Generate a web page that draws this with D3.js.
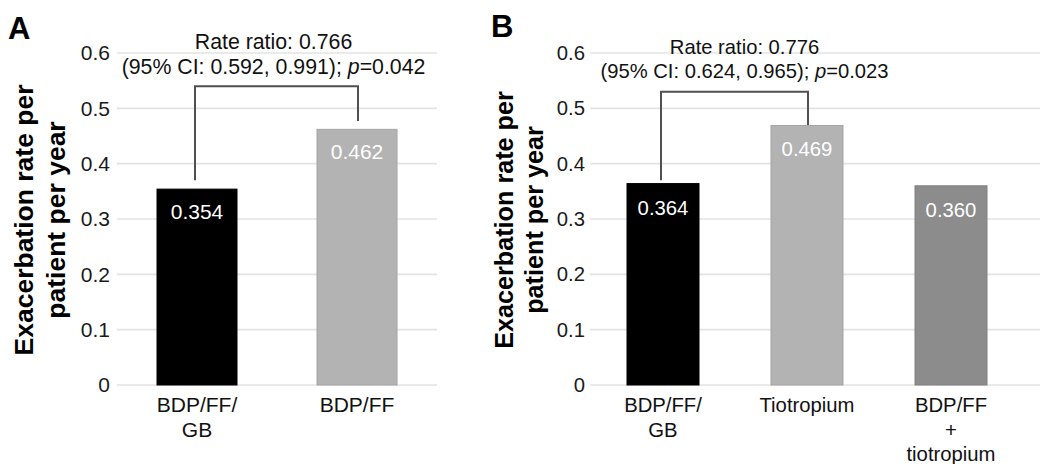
<!DOCTYPE html>
<html>
<head>
<meta charset="utf-8">
<script src="https://cdn.jsdelivr.net/npm/d3@7"></script>
<style>
  html, body { margin: 0; padding: 0; background: #fff; }
  svg { display: block; font-family: "Liberation Sans", Arial, Helvetica, sans-serif; }
</style>
</head>
<body>
<svg id="chart" width="1040" height="464"></svg>
<script>
// ---------- data ----------
const yTickValues = [0, 0.1, 0.2, 0.3, 0.4, 0.5, 0.6];
const yTickLabels = ["0", "0.1", "0.2", "0.3", "0.4", "0.5", "0.6"];
const yTitleLines = ["Exacerbation rate per", "patient per year"];

const categoriesA = [["BDP/FF/", "GB"], ["BDP/FF"]];
const valuesA = [0.354, 0.462];
const valueLabelsA = ["0.354", "0.462"];
const colorsA = ["#000000", "#b3b3b3"];
const annotationA = ["Rate ratio: 0.766", "(95% CI: 0.592, 0.991); ", "p", "=0.042"];
const bracketA = { from: 0, to: 1, top: 0.540, legs: [0.370, 0.477] };

const categoriesB = [["BDP/FF/", "GB"], ["Tiotropium"], ["BDP/FF", "+", "tiotropium"]];
const valuesB = [0.364, 0.469, 0.360];
const valueLabelsB = ["0.364", "0.469", "0.360"];
const colorsB = ["#000000", "#b3b3b3", "#8c8c8c"];
const annotationB = ["Rate ratio: 0.776", "(95% CI: 0.624, 0.965); ", "p", "=0.023"];
const bracketB = { from: 0, to: 1, top: 0.530, legs: [0.370, 0.470] };

// ---------- drawing ----------
const svg = d3.select("#chart");

function drawPanel(cfg) {
  const g = svg.append("g");
  const y = d3.scaleLinear().domain([0, 0.6]).range([385, 53]);
  const x = d3.scaleBand()
    .domain(cfg.categories.map((d, i) => i))
    .range([cfg.x0, cfg.x1])
    .paddingInner(0.5)
    .paddingOuter(0.25);

  // panel letter
  g.append("text")
    .attr("x", cfg.letterX).attr("y", cfg.letterY)
    .attr("font-size", 31).attr("font-weight", "bold")
    .attr("fill", "#000").text(cfg.letter);

  // gridlines
  g.selectAll(".grid").data(yTickValues).join("line")
    .attr("x1", cfg.gridX0).attr("x2", cfg.gridX1)
    .attr("y1", d => y(d)).attr("y2", d => y(d))
    .attr("stroke", "#e3e3e3").attr("stroke-width", 1.6);

  // y axis tick labels
  const yAxis = d3.axisLeft(y).tickValues(yTickValues)
    .tickFormat((d, i) => yTickLabels[i]).tickSize(0).tickPadding(0);
  const ya = g.append("g").attr("transform", `translate(${cfg.tickRight},0)`).call(yAxis);
  ya.select(".domain").remove();
  ya.selectAll("text").attr("font-size", cfg.fs).attr("fill", "#1a1a1a")
    .attr("font-family", "'Liberation Sans', Arial, sans-serif");

  // y title
  const yc = (y(0) + y(0.6)) / 2 + 1;
  yTitleLines.forEach((t, i) => {
    g.append("text")
      .attr("transform", `translate(${cfg.titleX[i]},${yc}) rotate(-90)`)
      .attr("text-anchor", "middle")
      .attr("font-size", cfg.titleFs).attr("font-weight", "bold")
      .attr("fill", "#000").text(t);
  });

  // bars
  g.selectAll(".bar").data(cfg.values).join("rect")
    .attr("x", (d, i) => x(i)).attr("width", x.bandwidth())
    .attr("y", d => y(d)).attr("height", d => y(0) - y(d))
    .attr("fill", (d, i) => cfg.colors[i])
    .attr("stroke", (d, i) => d3.color(cfg.colors[i]).darker(0.25))
    .attr("stroke-width", 1);

  // value labels
  g.selectAll(".vl").data(cfg.values).join("text")
    .attr("x", (d, i) => x(i) + x.bandwidth() / 2)
    .attr("y", d => y(d) + cfg.labelOffset)
    .attr("text-anchor", "middle")
    .attr("font-size", cfg.fs).attr("fill", "#fff")
    .text((d, i) => cfg.valueLabels[i]);

  // category labels
  cfg.categories.forEach((lines, i) => {
    lines.forEach((t, j) => {
      g.append("text")
        .attr("x", x(i) + x.bandwidth() / 2)
        .attr("y", 412 + j * 24.5)
        .attr("text-anchor", "middle")
        .attr("font-size", cfg.fs).attr("fill", "#111")
        .text(t);
    });
  });

  // bracket
  const b = cfg.bracket;
  const bx1 = x(b.from) + x.bandwidth() / 2 - 2;
  const bx2 = x(b.to) + x.bandwidth() / 2 + 1;
  g.append("path")
    .attr("d", `M${bx1},${y(b.legs[0])}V${y(b.top)}H${bx2}V${y(b.legs[1])}`)
    .attr("fill", "none").attr("stroke", "#505050").attr("stroke-width", 2);

  // annotation
  const ax = (bx1 + bx2) / 2 + cfg.annDx;
  g.append("text")
    .attr("x", ax).attr("y", cfg.annY[0])
    .attr("text-anchor", "middle").attr("font-size", cfg.annFs).attr("fill", "#111")
    .text(cfg.annotation[0]);
  const t2 = g.append("text")
    .attr("x", ax).attr("y", cfg.annY[1])
    .attr("text-anchor", "middle").attr("font-size", cfg.annFs).attr("fill", "#111");
  t2.append("tspan").text(cfg.annotation[1]);
  t2.append("tspan").attr("font-style", "italic").text(cfg.annotation[2]);
  t2.append("tspan").text(cfg.annotation[3]);
}

drawPanel({
  letter: "A", letterX: 8, letterY: 39,
  categories: categoriesA, values: valuesA, valueLabels: valueLabelsA, colors: colorsA,
  annotation: annotationA, bracket: bracketA,
  x0: 117, x1: 437, gridX0: 117, gridX1: 437, tickRight: 110,
  fs: 21, annFs: 21.3, titleFs: 26.5, titleX: [33, 65],
  labelOffset: 30, annY: [49, 74], annDx: -3
});

drawPanel({
  letter: "B", letterX: 491, letterY: 37,
  categories: categoriesB, values: valuesB, valueLabels: valueLabelsB, colors: colorsB,
  annotation: annotationB, bracket: bracketB,
  x0: 591, x1: 1023, gridX0: 590, gridX1: 1040, tickRight: 585,
  fs: 20.3, annFs: 20.2, titleFs: 25.2, titleX: [513, 543],
  labelOffset: 31, annY: [54, 78], annDx: 10
});
</script>
</body>
</html>
